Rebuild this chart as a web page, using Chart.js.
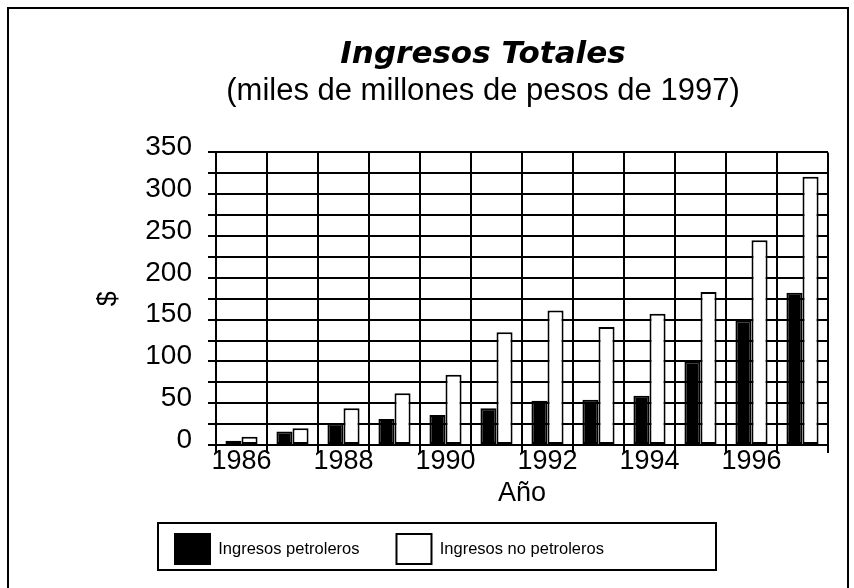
<!DOCTYPE html>
<html lang="es">
<head>
<meta charset="utf-8">
<title>Ingresos Totales</title>
<script src="https://cdn.jsdelivr.net/npm/chart.js@4/dist/chart.umd.min.js"></script>
<style>
    html, body { margin: 0; padding: 0; background: #fff; overflow: hidden; }
    #frame {
        position: absolute; left: 7px; top: 7px; width: 842px; height: 700px;
        border: 2px solid #000; box-sizing: border-box;
    }
    #wrap { position: absolute; left: 0; top: 0; width: 854px; height: 588px; }
</style>
</head>
<body>
<div id="frame"></div>
<div id="wrap"><canvas id="ingresosChart"></canvas></div>
<script>
// Ingresos Totales, miles de millones de pesos de 1997
const years = ['1986', '1987', '1988', '1989', '1990', '1991', '1992', '1993', '1994', '1995', '1996', '1997'];
const petroleros = [5, 16, 26, 31, 36, 44, 53, 54, 59, 100, 149, 182];
const noPetroleros = [10, 20, 44, 62, 84, 135, 161, 141, 157, 183, 245, 321];
const yMax = 350;
const yStep = 25;
const yLabelStep = 50;

// Draws the box around the legend, like the original chart
const legendFrame = {
    id: 'legendFrame',
    afterDraw(chart) {
        const boxes = chart.legend && chart.legend.legendHitBoxes;
        if (!boxes || !boxes.length) return;
        const first = boxes[0];
        const ctx = chart.ctx;
        ctx.save();
        ctx.strokeStyle = '#000';
        ctx.lineWidth = 2;
        ctx.strokeRect(first.left - 17, first.top - 11, 558, 47);
        ctx.restore();
    }
};

Chart.defaults.font.family = "'Liberation Sans', Arial, sans-serif";
Chart.defaults.color = '#000';

const ctx = document.getElementById('ingresosChart');
new Chart(ctx, {
    type: 'bar',
    data: {
        labels: years,
        datasets: [{
            label: 'Ingresos petroleros',
            data: petroleros,
            backgroundColor: '#000',
            borderColor: '#000',
            borderWidth: 2
        }, {
            label: 'Ingresos no petroleros',
            data: noPetroleros,
            backgroundColor: '#fff',
            borderColor: '#000',
            borderWidth: 2
        }]
    },
    options: {
        responsive: true,
        maintainAspectRatio: false,
        animation: false,
        layout: {
            padding: { left: 138, right: 26, top: 10, bottom: 14 }
        },
        datasets: {
            bar: {
                categoryPercentage: 0.63,
                barPercentage: 1.0,
                borderSkipped: false
            }
        },
        plugins: {
            title: {
                display: true,
                text: 'Ingresos Totales',
                font: { family: "'DejaVu Sans', sans-serif", size: 31, weight: 'bold', style: 'italic' },
                color: '#000',
                padding: { top: 26, bottom: 0 }
            },
            subtitle: {
                display: true,
                text: '(miles de millones de pesos de 1997)',
                font: { size: 31 },
                color: '#000',
                padding: { top: 0, bottom: 42 }
            },
            legend: {
                position: 'bottom',
                align: 'start',
                labels: {
                    boxWidth: 35,
                    boxHeight: 30,
                    padding: 37,
                    color: '#000',
                    font: { size: 16.5 }
                }
            },
            tooltip: { enabled: false }
        },
        scales: {
            x: {
                grid: {
                    color: '#000',
                    lineWidth: 2,
                    tickLength: 8,
                    offset: true
                },
                border: { color: '#000', width: 2 },
                ticks: {
                    autoSkip: false,
                    maxRotation: 0,
                    padding: -8,
                    font: { size: 27 },
                    callback: (value, index) => index % 2 === 0 ? years[index] : ''
                },
                title: {
                    display: true,
                    text: 'Año',
                    font: { size: 27 },
                    padding: { top: 0, bottom: -13 }
                },
                afterFit(scale) {
                    scale.height = 52;
                }
            },
            y: {
                min: 0,
                max: yMax,
                grid: {
                    color: '#000',
                    lineWidth: 2,
                    tickLength: 8
                },
                border: { color: '#000', width: 2 },
                ticks: {
                    stepSize: yStep,
                    autoSkip: false,
                    padding: 16,
                    labelOffset: -5,
                    font: { size: 28 },
                    callback: (value) => value % yLabelStep === 0 ? value : ''
                },
                title: {
                    display: true,
                    text: '$',
                    font: { size: 27 },
                    padding: { top: -46, bottom: 0 }
                },
                afterFit(scale) {
                    scale.width = 78;
                }
            }
        }
    },
    plugins: [legendFrame]
});
</script>
</body>
</html>
